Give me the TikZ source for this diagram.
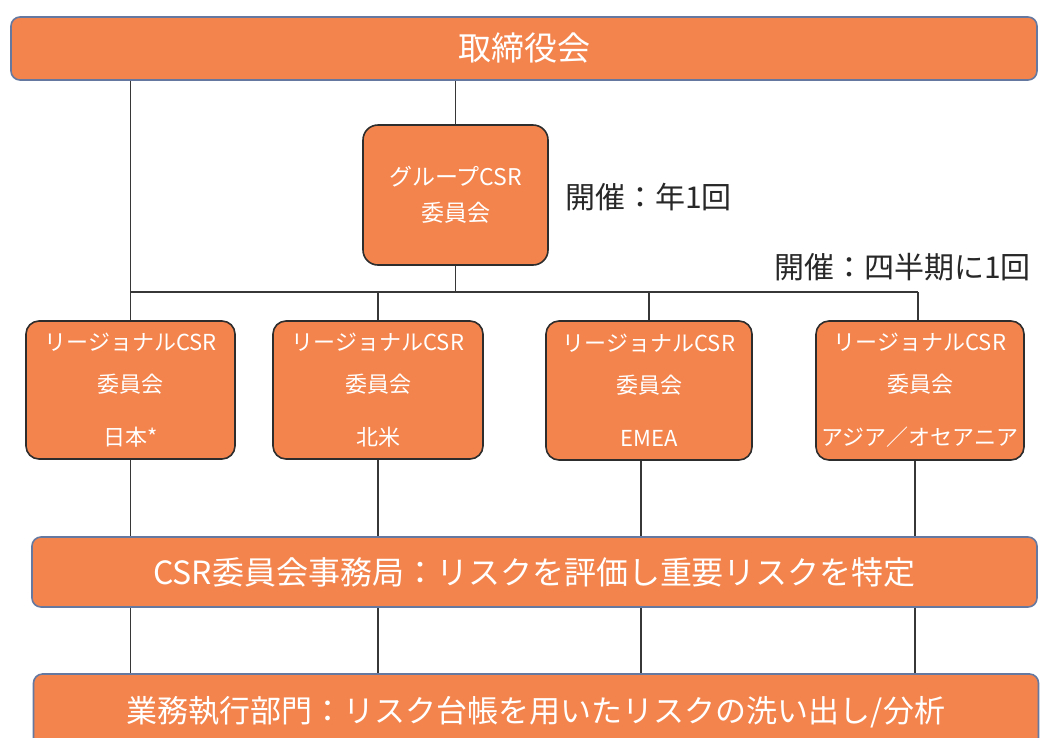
\documentclass[tikz,border=0pt]{standalone}
\usepackage{fontspec}
\newfontfamily\jp{Noto Sans CJK JP}
\definecolor{orfill}{RGB}{244,132,77}
\definecolor{bluedge}{RGB}{100,120,160}
\definecolor{darkedge}{RGB}{45,45,45}
\definecolor{linec}{RGB}{55,55,55}
\definecolor{txtc}{RGB}{40,40,40}
\begin{document}
\begin{tikzpicture}[x=1pt,y=-1pt,
  bar/.style={draw=bluedge,line width=1.6pt,fill=orfill,rounded corners=9pt,text=white,inner sep=0pt,font=\jp},
  cbox/.style={draw=darkedge,line width=1.6pt,fill=orfill,rounded corners=13pt,text=white,inner sep=0pt,align=center,font=\jp\fontsize{22}{42}\selectfont},
  conn/.style={draw=linec,line width=1.4pt},
  note/.style={text=txtc,inner sep=0pt,font=\jp\fontsize{30}{34}\selectfont}]
\useasboundingbox (0,0) rectangle (1040,737);
\clip (0,0) rectangle (1040,737);
\fill[white] (0,0) rectangle (1040,737);
% nodes
\node[bar,minimum width=1026pt,minimum height=63pt,font=\jp\fontsize{33}{38}\selectfont] (top) at (524,48.5) {取締役会};
\node[cbox,minimum width=185pt,minimum height=140pt,rounded corners=15pt,font=\jp\fontsize{23}{36}\selectfont] (grp) at (455.5,195) {グループCSR\\委員会};
\node[cbox,minimum width=209pt,minimum height=138pt] (r1) at (130.5,390) {リージョナルCSR\\委員会\\[11pt]日本*};
\node[cbox,minimum width=210pt,minimum height=138pt] (r2) at (378,390) {リージョナルCSR\\委員会\\[11pt]北米};
\node[cbox,minimum width=206pt,minimum height=139pt] (r3) at (649,390.5) {リージョナルCSR\\委員会\\[11pt]EMEA};
\node[cbox,minimum width=208pt,minimum height=139pt] (r4) at (920,390.5) {リージョナルCSR\\委員会\\[11pt]アジア／オセアニア};
\node[bar,minimum width=1005pt,minimum height=70pt,font=\jp\fontsize{32}{38}\selectfont] (csr) at (534.5,572) {CSR委員会事務局：リスクを評価し重要リスクを特定};
\node[bar,minimum width=1005pt,minimum height=76pt,font=\jp\fontsize{31}{38}\selectfont] (bot) at (536,712) {業務執行部門：リスク台帳を用いたリスクの洗い出し/分析};
\node[note,anchor=west] (n1) at (565,197) {開催：年1回};
\node[note,anchor=east] (n2) at (1031,267) {開催：四半期に1回};
% coordinates
\coordinate (busL) at (130.5,292);
\coordinate (busR) at (918,292);
\coordinate (d1) at (130.5,0);
\coordinate (d2) at (378,0);
\coordinate (d3) at (641,0);
\coordinate (d4) at (915,0);
% connectors
\path[conn] (top.south -| r1.north) -- (r1.north);
\path[conn] (top.south -| grp.north) -- (grp.north);
\path[conn] (grp.south) -- (grp.south |- busL);
\path[conn] (busL) -- (busR);
\path[conn] (r2.north |- busL) -- (r2.north);
\path[conn] (r3.north |- busL) -- (r3.north);
\path[conn] (busR) -- (busR |- r4.north);
\path[conn] (r1.south -| d1) -- (csr.north -| d1);
\path[conn] (r2.south -| d2) -- (csr.north -| d2);
\path[conn] (r3.south -| d3) -- (csr.north -| d3);
\path[conn] (r4.south -| d4) -- (csr.north -| d4);
\path[conn] (csr.south -| d1) -- (bot.north -| d1);
\path[conn] (csr.south -| d2) -- (bot.north -| d2);
\path[conn] (csr.south -| d3) -- (bot.north -| d3);
\path[conn] (csr.south -| d4) -- (bot.north -| d4);
\end{tikzpicture}
\end{document}
